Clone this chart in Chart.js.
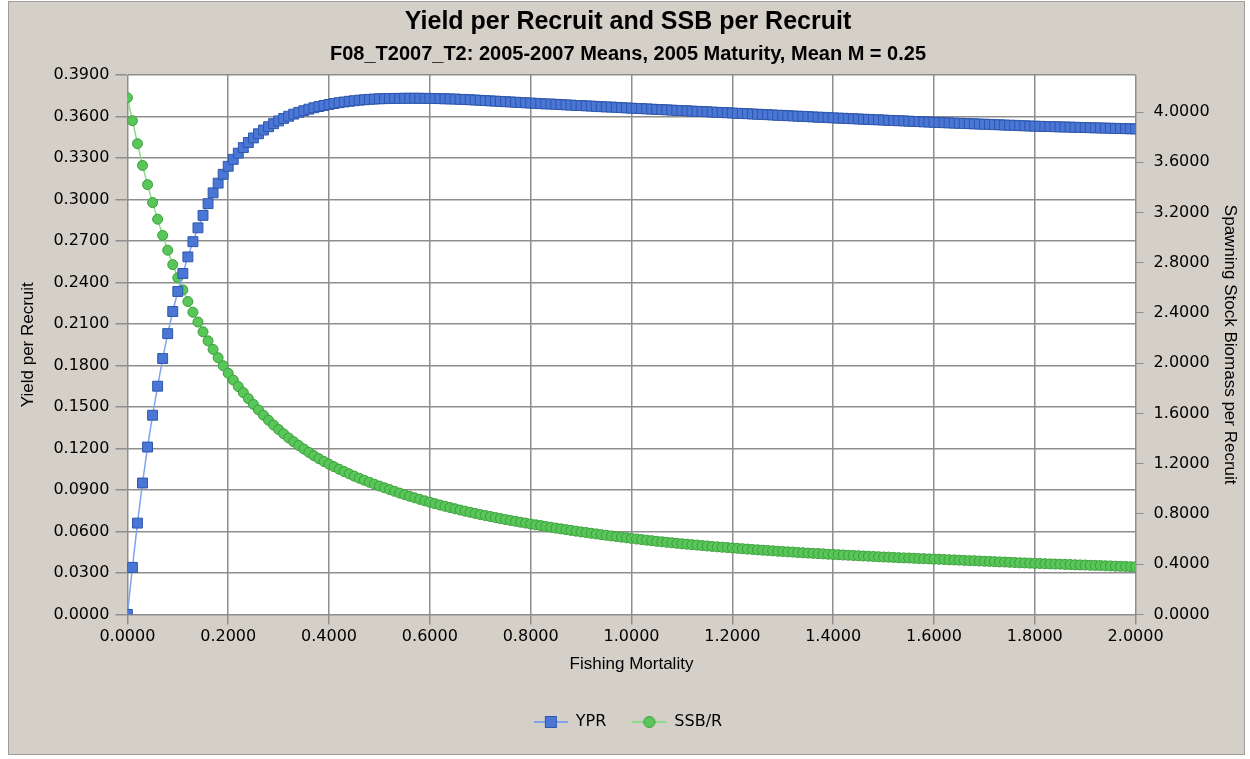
<!DOCTYPE html>
<html>
<head>
<meta charset="utf-8">
<script src="https://cdn.jsdelivr.net/npm/chart.js@4"></script>
<style>
html, body { margin: 0; padding: 0; background: #fff; }
</style>
</head>
<body>
<canvas id="ypr" width="1250" height="759"></canvas>
<script>
// Fishing mortality grid (x values)
var fishingMortality = [
  0, 0.01, 0.02, 0.03, 0.04, 0.05, 0.06, 0.07, 0.08, 0.09,
  0.1, 0.11, 0.12, 0.13, 0.14, 0.15, 0.16, 0.17, 0.18, 0.19,
  0.2, 0.21, 0.22, 0.23, 0.24, 0.25, 0.26, 0.27, 0.28, 0.29,
  0.3, 0.31, 0.32, 0.33, 0.34, 0.35, 0.36, 0.37, 0.38, 0.39,
  0.4, 0.41, 0.42, 0.43, 0.44, 0.45, 0.46, 0.47, 0.48, 0.49,
  0.5, 0.51, 0.52, 0.53, 0.54, 0.55, 0.56, 0.57, 0.58, 0.59,
  0.6, 0.61, 0.62, 0.63, 0.64, 0.65, 0.66, 0.67, 0.68, 0.69,
  0.7, 0.71, 0.72, 0.73, 0.74, 0.75, 0.76, 0.77, 0.78, 0.79,
  0.8, 0.81, 0.82, 0.83, 0.84, 0.85, 0.86, 0.87, 0.88, 0.89,
  0.9, 0.91, 0.92, 0.93, 0.94, 0.95, 0.96, 0.97, 0.98, 0.99,
  1, 1.01, 1.02, 1.03, 1.04, 1.05, 1.06, 1.07, 1.08, 1.09,
  1.1, 1.11, 1.12, 1.13, 1.14, 1.15, 1.16, 1.17, 1.18, 1.19,
  1.2, 1.21, 1.22, 1.23, 1.24, 1.25, 1.26, 1.27, 1.28, 1.29,
  1.3, 1.31, 1.32, 1.33, 1.34, 1.35, 1.36, 1.37, 1.38, 1.39,
  1.4, 1.41, 1.42, 1.43, 1.44, 1.45, 1.46, 1.47, 1.48, 1.49,
  1.5, 1.51, 1.52, 1.53, 1.54, 1.55, 1.56, 1.57, 1.58, 1.59,
  1.6, 1.61, 1.62, 1.63, 1.64, 1.65, 1.66, 1.67, 1.68, 1.69,
  1.7, 1.71, 1.72, 1.73, 1.74, 1.75, 1.76, 1.77, 1.78, 1.79,
  1.8, 1.81, 1.82, 1.83, 1.84, 1.85, 1.86, 1.87, 1.88, 1.89,
  1.9, 1.91, 1.92, 1.93, 1.94, 1.95, 1.96, 1.97, 1.98, 1.99, 2
];

// Yield per recruit (left axis)
var ypr = [
  0.0000, 0.0340, 0.0660, 0.0950, 0.1210, 0.1440, 0.1650, 0.1850, 0.2030, 0.2190,
  0.2335, 0.2465, 0.2585, 0.2695, 0.2795, 0.2885, 0.2970, 0.3048, 0.3118, 0.3182,
  0.3240, 0.3290, 0.3335, 0.3375, 0.3412, 0.3445, 0.3475, 0.3502, 0.3526, 0.3548,
  0.3568, 0.3586, 0.3602, 0.3617, 0.3630, 0.3642, 0.3653, 0.3663, 0.3672, 0.3680,
  0.3687, 0.3694, 0.3700, 0.3705, 0.3710, 0.3714, 0.3718, 0.3721, 0.3724, 0.3726,
  0.3728, 0.3729, 0.3730, 0.3731, 0.3731, 0.3732, 0.3732, 0.3732, 0.3732, 0.3731,
  0.3731, 0.3730, 0.3729, 0.3728, 0.3727, 0.3726, 0.3724, 0.3723, 0.3721, 0.3719,
  0.3717, 0.3715, 0.3713, 0.3711, 0.3709, 0.3707, 0.3705, 0.3703, 0.3701, 0.3699,
  0.3697, 0.3695, 0.3693, 0.3691, 0.3690, 0.3688, 0.3686, 0.3684, 0.3682, 0.3680,
  0.3679, 0.3677, 0.3675, 0.3673, 0.3671, 0.3669, 0.3668, 0.3666, 0.3664, 0.3662,
  0.3660, 0.3658, 0.3657, 0.3655, 0.3653, 0.3651, 0.3650, 0.3648, 0.3646, 0.3644,
  0.3643, 0.3641, 0.3639, 0.3637, 0.3636, 0.3634, 0.3632, 0.3630, 0.3629, 0.3627,
  0.3625, 0.3623, 0.3622, 0.3620, 0.3618, 0.3616, 0.3615, 0.3613, 0.3611, 0.3609,
  0.3608, 0.3606, 0.3604, 0.3602, 0.3601, 0.3599, 0.3597, 0.3595, 0.3594, 0.3592,
  0.3590, 0.3588, 0.3587, 0.3585, 0.3584, 0.3582, 0.3580, 0.3579, 0.3577, 0.3576,
  0.3574, 0.3572, 0.3571, 0.3569, 0.3568, 0.3566, 0.3564, 0.3563, 0.3561, 0.3560,
  0.3558, 0.3557, 0.3555, 0.3554, 0.3552, 0.3551, 0.3550, 0.3548, 0.3547, 0.3545,
  0.3544, 0.3543, 0.3541, 0.3540, 0.3538, 0.3537, 0.3536, 0.3534, 0.3533, 0.3531,
  0.3530, 0.3529, 0.3528, 0.3527, 0.3526, 0.3525, 0.3524, 0.3523, 0.3522, 0.3521,
  0.3520, 0.3519, 0.3518, 0.3517, 0.3516, 0.3515, 0.3514, 0.3513, 0.3512, 0.3511, 0.3510
];

// Spawning stock biomass per recruit (right axis)
var ssbr = [
  4.114, 3.931, 3.748, 3.575, 3.422, 3.279, 3.147, 3.018, 2.900, 2.785,
  2.680, 2.584, 2.491, 2.406, 2.328, 2.250, 2.178, 2.110, 2.044, 1.980,
  1.920, 1.866, 1.814, 1.766, 1.718, 1.672, 1.628, 1.586, 1.546, 1.508,
  1.472, 1.438, 1.405, 1.374, 1.345, 1.317, 1.290, 1.264, 1.240, 1.217,
  1.196, 1.176, 1.156, 1.137, 1.119, 1.101, 1.084, 1.068, 1.052, 1.037,
  1.022, 1.008, 0.994, 0.980, 0.966, 0.953, 0.940, 0.928, 0.916, 0.904,
  0.893, 0.882, 0.871, 0.861, 0.851, 0.841, 0.831, 0.822, 0.813, 0.804,
  0.795, 0.787, 0.779, 0.771, 0.763, 0.755, 0.748, 0.741, 0.734, 0.727,
  0.720, 0.713, 0.707, 0.700, 0.694, 0.687, 0.681, 0.675, 0.669, 0.663,
  0.657, 0.652, 0.646, 0.641, 0.635, 0.630, 0.625, 0.620, 0.615, 0.610,
  0.605, 0.600, 0.596, 0.591, 0.587, 0.582, 0.578, 0.574, 0.570, 0.566,
  0.562, 0.559, 0.555, 0.552, 0.548, 0.545, 0.541, 0.538, 0.535, 0.532,
  0.529, 0.526, 0.523, 0.520, 0.517, 0.514, 0.511, 0.509, 0.506, 0.503,
  0.501, 0.498, 0.496, 0.493, 0.491, 0.488, 0.486, 0.484, 0.482, 0.479,
  0.477, 0.475, 0.473, 0.471, 0.469, 0.467, 0.465, 0.463, 0.461, 0.459,
  0.457, 0.456, 0.454, 0.452, 0.450, 0.449, 0.447, 0.445, 0.444, 0.442,
  0.440, 0.439, 0.437, 0.435, 0.434, 0.432, 0.430, 0.428, 0.427, 0.425,
  0.423, 0.422, 0.420, 0.418, 0.417, 0.415, 0.413, 0.411, 0.410, 0.408,
  0.406, 0.405, 0.404, 0.402, 0.401, 0.400, 0.398, 0.397, 0.395, 0.394,
  0.393, 0.391, 0.390, 0.389, 0.387, 0.386, 0.384, 0.383, 0.382, 0.380, 0.379
];

// tick labels
var xTicks = [0, 0.2, 0.4, 0.6, 0.8, 1.0, 1.2, 1.4, 1.6, 1.8, 2.0];
var yprTicks = [0, 0.03, 0.06, 0.09, 0.12, 0.15, 0.18, 0.21, 0.24, 0.27, 0.30, 0.33, 0.36, 0.39];
var ssbTicks = [0, 0.4, 0.8, 1.2, 1.6, 2.0, 2.4, 2.8, 3.2, 3.6, 4.0];

var gridGray = '#8e8e8e';
var tickFont = { family: 'DejaVu Sans', size: 16 };
var axisTitleFont = { family: 'Liberation Sans', size: 17 };

function setTicks(list) {
    return function (scale) {
        scale.ticks = list.map(function (v) { return { value: v }; });
    };
}
function fmt4(v) { return Number(v).toFixed(4); }

function legendIcon(kind, lineColor, fill, stroke) {
    var cv = document.createElement('canvas');
    cv.width = 34; cv.height = 14;
    var g = cv.getContext('2d');
    g.strokeStyle = lineColor; g.lineWidth = 2;
    g.beginPath(); g.moveTo(0, 7); g.lineTo(34, 7); g.stroke();
    g.fillStyle = fill; g.strokeStyle = stroke; g.lineWidth = 1;
    if (kind === 'rect') {
        g.fillRect(11, 1, 12, 12);
        g.strokeRect(11.5, 1.5, 11, 11);
    } else {
        g.beginPath(); g.arc(17, 7, 5.5, 0, Math.PI * 2); g.fill(); g.stroke();
    }
    return cv;
}
var icons = [
    legendIcon('rect', '#7ea4ee', '#4a77d6', '#2f56ab'),
    legendIcon('circle', '#88dc88', '#58c658', '#3c9f3c')
];

// page background + white plot area
var backdrop = {
    id: 'backdrop',
    beforeDraw: function (chart) {
        var c = chart.ctx, a = chart.chartArea;
        c.save();
        c.fillStyle = '#ffffff';
        c.fillRect(0, 0, chart.width, chart.height);
        c.fillStyle = '#d4d0c8';
        c.fillRect(8, 1, 1237, 754);
        c.strokeStyle = '#a09d96';
        c.lineWidth = 1;
        c.strokeRect(8.5, 1.5, 1236, 753);
        c.fillStyle = '#ffffff';
        c.fillRect(a.left, a.top, a.right - a.left, a.bottom - a.top);
        c.restore();
    }
};

var ctx = document.getElementById('ypr');
var myChart = new Chart(ctx, {
    type: 'line',
    data: {
        datasets: [
            {
                label: 'YPR',
                data: ypr.map(function (v, i) { return { x: fishingMortality[i], y: v }; }),
                yAxisID: 'y',
                borderColor: '#7ea4ee',
                borderWidth: 1.5,
                pointStyle: 'rect',
                pointRadius: 7,
                pointBackgroundColor: '#4a77d6',
                pointBorderColor: '#2f56ab',
                pointBorderWidth: 1
            },
            {
                label: 'SSB/R',
                data: ssbr.map(function (v, i) { return { x: fishingMortality[i], y: v }; }),
                yAxisID: 'y2',
                borderColor: '#88dc88',
                borderWidth: 1.5,
                pointStyle: 'circle',
                pointRadius: 5,
                pointBackgroundColor: '#58c658',
                pointBorderColor: '#3c9f3c',
                pointBorderWidth: 1
            }
        ]
    },
    options: {
        responsive: false,
        animation: false,
        layout: { padding: { left: 10, right: 4, top: 0, bottom: 19 } },
        plugins: {
            title: {
                display: true,
                text: 'Yield per Recruit and SSB per Recruit',
                color: '#000',
                font: { family: 'Liberation Sans', size: 25, weight: 'bold' },
                padding: { top: 7, bottom: 5 }
            },
            subtitle: {
                display: true,
                text: 'F08_T2007_T2: 2005-2007 Means, 2005 Maturity, Mean M = 0.25',
                color: '#000',
                font: { family: 'Liberation Sans', size: 20, weight: 'bold' },
                padding: { top: 0, bottom: 9 }
            },
            legend: {
                position: 'bottom',
                labels: {
                    usePointStyle: true,
                    pointStyleWidth: 34,
                    color: '#000',
                    font: { family: 'DejaVu Sans', size: 16 },
                    padding: 26,
                    generateLabels: function (chart) {
                        var items = Chart.defaults.plugins.legend.labels.generateLabels(chart);
                        items.forEach(function (it, i) { it.pointStyle = icons[i]; });
                        return items;
                    }
                }
            },
            tooltip: { enabled: false }
        },
        scales: {
            x: {
                type: 'linear',
                min: 0,
                max: 2,
                afterBuildTicks: setTicks(xTicks),
                ticks: { callback: fmt4, color: '#000', font: tickFont, maxRotation: 0, autoSkip: false, padding: 3 },
                grid: { color: gridGray, lineWidth: 1.5, tickLength: 10 },
                border: { color: gridGray },
                title: { display: true, text: 'Fishing Mortality', color: '#000', font: axisTitleFont, padding: { top: 5, bottom: 13 } }
            },
            y: {
                position: 'left',
                min: 0,
                max: 0.39,
                afterBuildTicks: setTicks(yprTicks),
                ticks: { callback: fmt4, color: '#000', font: tickFont, padding: 6 },
                grid: { color: gridGray, lineWidth: 1.5, tickLength: 12 },
                border: { color: gridGray },
                title: { display: true, text: 'Yield per Recruit', color: '#000', font: axisTitleFont, padding: { top: 8, bottom: 9 } }
            },
            y2: {
                position: 'right',
                min: 0,
                max: 4.295,
                afterBuildTicks: setTicks(ssbTicks),
                ticks: { callback: fmt4, color: '#000', font: tickFont, padding: 10 },
                grid: { drawOnChartArea: false, color: gridGray, tickLength: 8 },
                border: { color: gridGray },
                title: { display: true, text: 'Spawning Stock Biomass per Recruit', color: '#000', font: axisTitleFont, padding: { top: 6, bottom: 0 } }
            }
        }
    },
    plugins: [backdrop]
});
</script>
</body>
</html>
